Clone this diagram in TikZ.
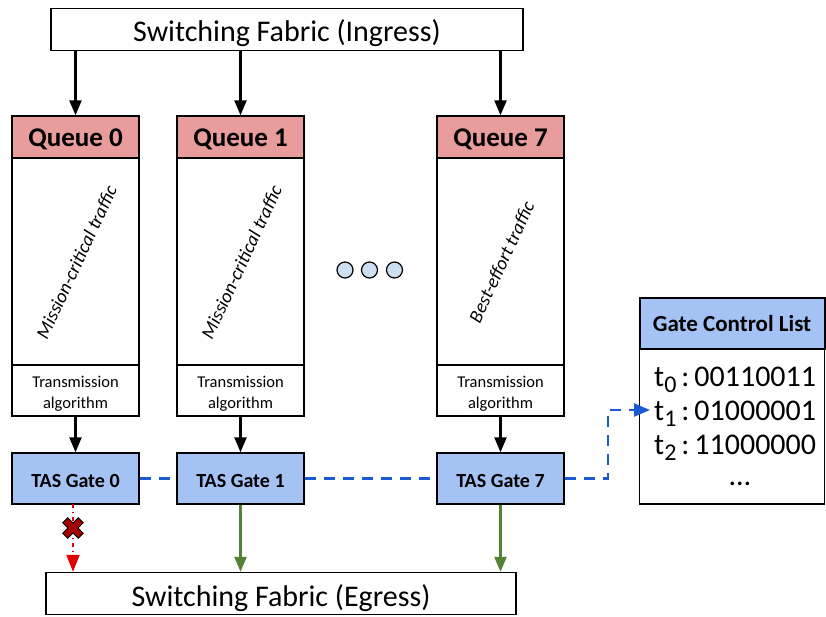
\documentclass[tikz,border=0pt]{standalone}
\usepackage{fontspec}
\setmainfont{Carlito}
\usetikzlibrary{arrows.meta}

\definecolor{qhead}{RGB}{232,156,156}
\definecolor{gateblue}{RGB}{164,194,244}
\definecolor{dotblue}{RGB}{207,223,242}
\definecolor{linkblue}{RGB}{28,90,210}
\definecolor{passgreen}{RGB}{84,130,53}
\definecolor{dropred}{RGB}{225,0,0}
\definecolor{xred}{RGB}{165,0,0}

\tikzset{
  box/.style={draw=black, line width=1.4pt, inner sep=0pt, align=center},
  fabric/.style={box, minimum height=42pt, text height=25pt, text depth=0pt,
    font=\fontsize{30}{32}\selectfont},
  qheadbox/.style={box, fill=qhead, minimum width=127pt, minimum height=42pt,
    text height=20pt, text depth=0pt, font=\bfseries\fontsize{27}{29}\selectfont},
  qbody/.style={box, minimum width=127pt, minimum height=207pt},
  algbox/.style={box, minimum width=127pt, minimum height=51pt,
    font=\fontsize{16.5}{21}\selectfont},
  gatebox/.style={box, fill=gateblue, minimum width=127pt, minimum height=51pt,
    text height=17pt, text depth=0pt, font=\bfseries\fontsize{20}{22}\selectfont},
  traffic/.style={font=\itshape\fontsize{19}{21}\selectfont, rotate=65},
  feed/.style={line width=2.4pt, -{Triangle[width=12pt,length=15pt]}},
  passarrow/.style={feed, draw=passgreen, -{Triangle[width=12pt,length=15pt,fill=passgreen]}},
  droparrow/.style={draw=dropred, line width=2.2pt, dash pattern=on 4pt off 4pt on 1pt off 4pt,
    -{Triangle[width=13pt,length=17pt,fill=dropred]}},
  gcllink/.style={draw=linkblue, line width=2.6pt, dash pattern=on 11pt off 8pt},
  dotcirc/.style={draw=black, fill=dotblue, line width=1.2pt, circle, minimum size=16pt, inner sep=0pt},
  gclentry/.style={anchor=base west, font=\fontsize{30}{32}\selectfont, inner sep=0pt}
}
\newcommand{\tsub}[1]{t\raisebox{-6pt}{\fontsize{24}{24}\selectfont #1}}

\begin{document}
\begin{tikzpicture}[x=1pt,y=-1pt]
\useasboundingbox (0,0) rectangle (826,617);

% switching fabric
\node[fabric, minimum width=472pt] (ing) at (287,29.5) {Switching Fabric (Ingress)};
\node[fabric, minimum width=470pt] (egr) at (281,593.5) {Switching Fabric (Egress)};

% queues with their transmission algorithm and gate
\foreach \id/\cx/\txt in {0/75.5/Mission-critical traffic,
                          1/240.5/Mission-critical traffic,
                          7/500.5/Best-effort traffic}{
  \node[qheadbox] (qh\id) at (\cx,137) {Queue \id};
  \node[qbody] (qb\id) at (\cx,261.5) {};
  \node[algbox] (ta\id) at (\cx,390.5) {\rule{0pt}{18pt}Transmission\\algorithm};
  \node[gatebox] (g\id) at (\cx,478.5) {TAS Gate \id};
  \node[traffic] (tr\id) at (\cx+1,262) {\txt};
  \draw[feed] (ing.south -| qh\id.north) -- (qh\id.north);
  \draw[feed] (ta\id.south) -- (g\id.north);
}

% queues 2..6 omitted
\node[dotcirc] (d1) at (345,270) {};
\node[dotcirc] (d2) at (369.5,270) {};
\node[dotcirc] (d3) at (394.5,270) {};

% gate control list
\node[box, line width=2pt, fill=gateblue, minimum width=185pt, minimum height=51pt,
  font=\bfseries\fontsize{23}{25}\selectfont] (gclh) at (732,323.5) {Gate Control List};
\node[box, line width=1.4pt, minimum width=185pt, minimum height=155pt] (gclb) at (732,426.5) {};
\node[gclentry] (e0) at (654,386) {\tsub{0}\,:\,00110011};
\node[gclentry] (e1) at (654,420) {\tsub{1}\,:\,01000001};
\node[gclentry] (e2) at (654,454) {\tsub{2}\,:\,11000000};
\node[gclentry, anchor=center] (e3) at (740,484) {\ldots};

% gate control signalling
\draw[gcllink] (g0.east) -- (g1.west);
\draw[gcllink] (g1.east) -- (g7.west);
\coordinate (gclin) at (650,410);
\draw[gcllink, -{Triangle[width=13pt,length=16pt,fill=linkblue]}]
  (g7.east) -| (608,410) -- (gclin);

% outputs to egress
\draw[passarrow] (g1.south) -- (g1.south |- egr.north);
\draw[passarrow] (g7.south) -- (g7.south |- egr.north);
\coordinate (g0out) at (73,504);
\draw[droparrow] (g0out) -- (g0out |- egr.north);
\coordinate (xmark) at (73,528);
\begin{scope}[shift={(xmark)}, rotate=45]
  \draw[fill=xred, line width=0.9pt]
    (3.6,11) -- (3.6,3.6) -- (11,3.6) -- (11,-3.6) -- (3.6,-3.6) -- (3.6,-11)
    -- (-3.6,-11) -- (-3.6,-3.6) -- (-11,-3.6) -- (-11,3.6) -- (-3.6,3.6) -- (-3.6,11) -- cycle;
\end{scope}
\end{tikzpicture}
\end{document}
